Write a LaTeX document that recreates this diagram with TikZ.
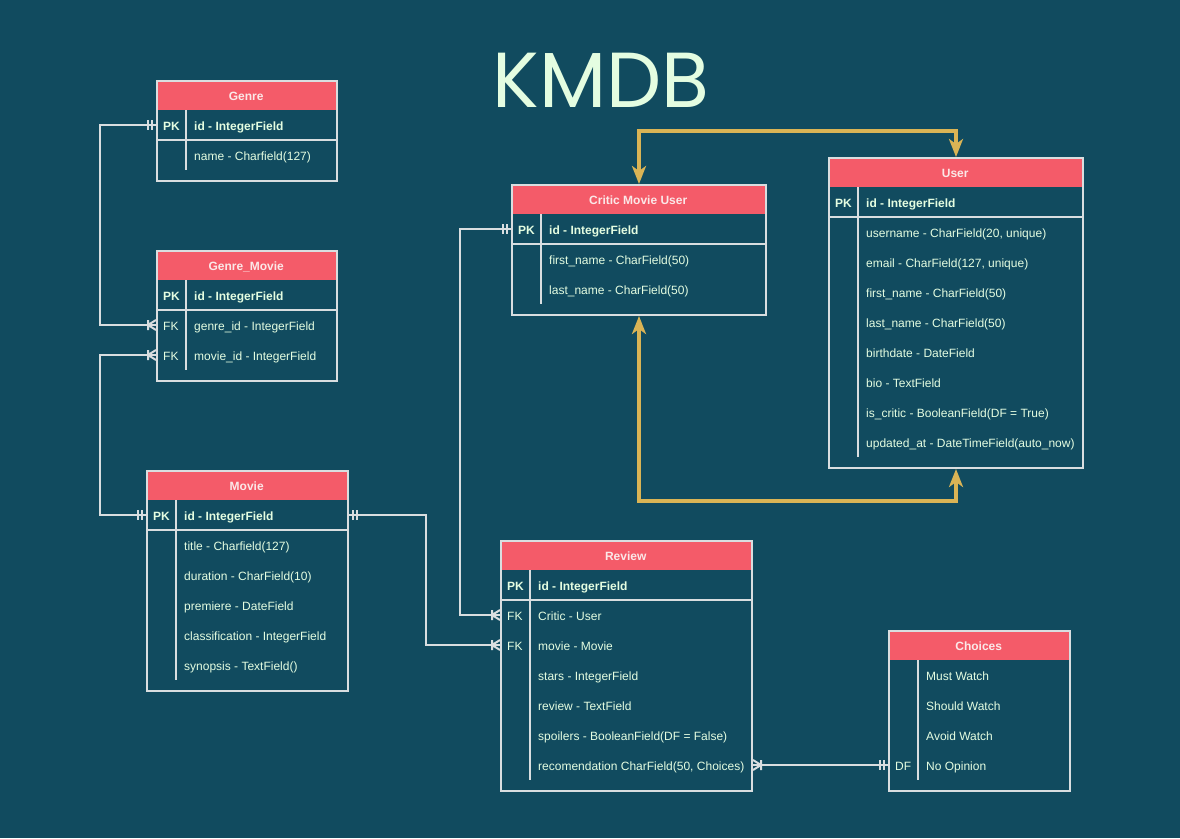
\documentclass[tikz,border=0pt]{standalone}
\usepackage{fontspec}
\setmainfont{Liberation Sans}
\newfontfamily\titlefont{Poppins}
\usetikzlibrary{arrows.meta}

\definecolor{bgc}{HTML}{114B5F}
\definecolor{hdrc}{HTML}{F45B69}
\definecolor{txtc}{HTML}{E4FDE1}
\definecolor{hdrtxt}{HTML}{FBE8E8}
\definecolor{linec}{HTML}{D9DEE0}
\definecolor{goldc}{HTML}{DAB455}

\tikzset{
  tbl/.style={anchor=north west, draw=linec, line width=2pt, inner sep=0pt},
  hdr/.style={anchor=north west, fill=hdrc, inner sep=0pt, minimum height=30pt, text=hdrtxt,
    text height=11pt, text depth=0pt, font=\fontsize{12}{14}\selectfont\bfseries},
  fld/.style={anchor=west, inner sep=0pt, text=txtc, text height=10pt, text depth=0pt,
    font=\fontsize{12}{14}\selectfont},
  key/.style={fld},
  tline/.style={draw=linec, line width=2pt},
  rel/.style={draw=linec, line width=2pt},
  gold/.style={draw=goldc, line width=3.5pt,
    arrows={Stealth[length=18pt,width=14pt,inset=5pt]-Stealth[length=18pt,width=14pt,inset=5pt]}},
  mandone/.pic={\draw[rel] (-4,-5) -- (-4,5) (-8,-5) -- (-8,5);},
  onemany/.pic={\draw[rel] (-8,-5) -- (-8,5) (0,-5) -- (-8,0) -- (0,5);}
}

\begin{document}
\begin{tikzpicture}[x=1pt,y=-1pt]

\fill[bgc] (0,0) rectangle (1180,838);
\useasboundingbox (0,0) rectangle (1180,838);

\node[font=\titlefont\fontsize{78}{78}\selectfont, text=txtc] (title) at (601,80) {KMDB};

\node[hdr, minimum width=180pt] (genre-h) at (156,80) {Genre};
\node[tbl, minimum width=180pt, minimum height=100pt] (genre) at (156,80) {};
\draw[tline] (186,110) -- (186,170);
\draw[tline] (156,140) -- (336,140);
\node[key] at (163,125) {\bfseries PK};
\node[fld] (genre-id) at (194,125) {\bfseries id - IntegerField};
\node[fld] (genre-name) at (194,155) {name - Charfield(127)};

\node[hdr, minimum width=180pt] (gm-h) at (156,250) {Genre\_Movie};
\node[tbl, minimum width=180pt, minimum height=130pt] (gm) at (156,250) {};
\draw[tline] (186,280) -- (186,370);
\draw[tline] (156,310) -- (336,310);
\node[key] at (163,295) {\bfseries PK};
\node[key] at (163,325) {FK};
\node[key] at (163,355) {FK};
\node[fld] (gm-id) at (194,295) {\bfseries id - IntegerField};
\node[fld] (gm-genre) at (194,325) {genre\_id - IntegerField};
\node[fld] (gm-movie) at (194,355) {movie\_id - IntegerField};

\node[hdr, minimum width=201pt] (movie-h) at (146,470) {Movie};
\node[tbl, minimum width=201pt, minimum height=220pt] (movie) at (146,470) {};
\draw[tline] (176,500) -- (176,680);
\draw[tline] (146,530) -- (347,530);
\node[key] at (153,515) {\bfseries PK};
\node[fld] (movie-id) at (184,515) {\bfseries id - IntegerField};
\node[fld] (movie-title) at (184,545) {title - Charfield(127)};
\node[fld] (movie-dur) at (184,575) {duration - CharField(10)};
\node[fld] (movie-prem) at (184,605) {premiere - DateField};
\node[fld] (movie-class) at (184,635) {classification - IntegerField};
\node[fld] (movie-syn) at (184,665) {synopsis - TextField()};

\node[hdr, minimum width=254pt] (cmu-h) at (511,184) {Critic Movie User};
\node[tbl, minimum width=254pt, minimum height=130pt] (cmu) at (511,184) {};
\draw[tline] (541,214) -- (541,304);
\draw[tline] (511,244) -- (765,244);
\node[key] at (518,229) {\bfseries PK};
\node[fld] (cmu-id) at (549,229) {\bfseries id - IntegerField};
\node[fld] (cmu-first) at (549,259) {first\_name - CharField(50)};
\node[fld] (cmu-last) at (549,289) {last\_name - CharField(50)};

\node[hdr, minimum width=254pt] (user-h) at (828,157) {User};
\node[tbl, minimum width=254pt, minimum height=310pt] (user) at (828,157) {};
\draw[tline] (858,187) -- (858,457);
\draw[tline] (828,217) -- (1082,217);
\node[key] at (835,202) {\bfseries PK};
\node[fld] (user-id) at (866,202) {\bfseries id - IntegerField};
\node[fld] (user-uname) at (866,232) {username - CharField(20, unique)};
\node[fld] (user-email) at (866,262) {email - CharField(127, unique)};
\node[fld] (user-first) at (866,292) {first\_name - CharField(50)};
\node[fld] (user-last) at (866,322) {last\_name - CharField(50)};
\node[fld] (user-birth) at (866,352) {birthdate - DateField};
\node[fld] (user-bio) at (866,382) {bio - TextField};
\node[fld] (user-critic) at (866,412) {is\_critic - BooleanField(DF = True)};
\node[fld] (user-upd) at (866,442) {updated\_at - DateTimeField(auto\_now)};

\node[hdr, minimum width=251pt] (rv-h) at (500,540) {Review};
\node[tbl, minimum width=251pt, minimum height=250pt] (review) at (500,540) {};
\draw[tline] (530,570) -- (530,780);
\draw[tline] (500,600) -- (751,600);
\node[key] at (507,585) {\bfseries PK};
\node[key] at (507,615) {FK};
\node[key] at (507,645) {FK};
\node[fld] (rv-id) at (538,585) {\bfseries id - IntegerField};
\node[fld] (rv-critic) at (538,615) {Critic - User};
\node[fld] (rv-movie) at (538,645) {movie - Movie};
\node[fld] (rv-stars) at (538,675) {stars - IntegerField};
\node[fld] (rv-review) at (538,705) {review - TextField};
\node[fld] (rv-spoil) at (538,735) {spoilers - BooleanField(DF = False)};
\node[fld] (rv-rec) at (538,765) {recomendation CharField(50, Choices)};

\node[hdr, minimum width=181pt] (ch-h) at (888,630) {Choices};
\node[tbl, minimum width=181pt, minimum height=160pt] (choices) at (888,630) {};
\draw[tline] (918,660) -- (918,780);
\node[key] at (895,765) {DF};
\node[fld] (ch-must) at (926,675) {Must Watch};
\node[fld] (ch-should) at (926,705) {Should Watch};
\node[fld] (ch-avoid) at (926,735) {Avoid Watch};
\node[fld] (ch-no) at (926,765) {No Opinion};

\draw[rel] (genre.west |- genre-id) -- ++(-56,0) |- (gm.west |- gm-genre);
\pic at (genre.west |- genre-id) {mandone};
\pic at (gm.west |- gm-genre) {onemany};

\draw[rel] (movie.west |- movie-id) -- ++(-46,0) |- (gm.west |- gm-movie);
\pic at (movie.west |- movie-id) {mandone};
\pic at (gm.west |- gm-movie) {onemany};

\draw[rel] (movie.east |- movie-id) -- ++(77,0) |- (review.west |- rv-movie);
\pic[rotate=180] at (movie.east |- movie-id) {mandone};
\pic at (review.west |- rv-movie) {onemany};

\draw[rel] (cmu.west |- cmu-id) -- ++(-51,0) |- (review.west |- rv-critic);
\pic at (cmu.west |- cmu-id) {mandone};
\pic at (review.west |- rv-critic) {onemany};

\draw[rel] (review.east |- rv-rec) -- (choices.west |- ch-no);
\pic[rotate=180] at (review.east |- rv-rec) {onemany};
\pic at (choices.west |- ch-no) {mandone};

\draw[gold] (cmu.north) -- ++(0,-53) -| (user.north);
\draw[gold] (cmu.south) -- ++(0,185) -| (user.south);

\end{tikzpicture}
\end{document}
